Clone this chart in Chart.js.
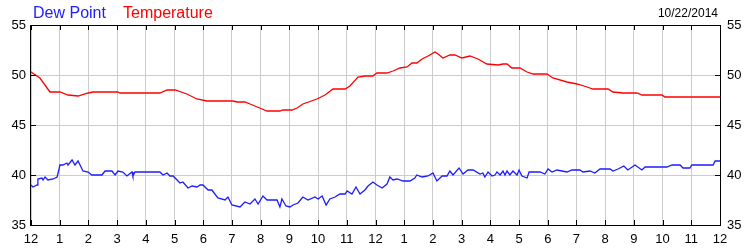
<!DOCTYPE html>
<html>
<head>
<meta charset="utf-8">
<script src="https://cdn.jsdelivr.net/npm/chart.js@4/dist/chart.umd.min.js"></script>
<style>
  html, body { margin: 0; padding: 0; background: #fff; }
  #wrap { width: 750px; height: 250px; }
</style>
</head>
<body>
<div id="wrap"><canvas id="grafico"></canvas></div>
<script>
(function () {
    'use strict';

    // hour labels, midnight to midnight
    var hourLabels = ['12', '1', '2', '3', '4', '5', '6', '7', '8', '9', '10', '11',
                      '12', '1', '2', '3', '4', '5', '6', '7', '8', '9', '10', '11', '12'];
    var yTicks = [35, 40, 45, 50, 55];
    var dateText = '10/22/2014';

    // temperature (hours since midnight / degrees)
    var tempHours = [0, 0.31, 0.66, 1.01, 1.29, 1.64, 1.99, 2.16, 3.03, 3.10, 4.49, 4.74, 5.02,
        5.43, 5.78, 6.13, 7.04, 7.18, 7.45, 7.63, 7.80, 8.05, 8.22, 8.67, 8.78, 9.09, 9.27,
        9.47, 9.96, 10.24, 10.52, 10.94, 11.11, 11.39, 11.63, 11.91, 12.05, 12.40, 12.61,
        12.85, 13.10, 13.27, 13.44, 13.62, 13.83, 14.07, 14.18, 14.35, 14.59, 14.77, 15.01,
        15.29, 15.57, 15.88, 16.27, 16.44, 16.58, 16.75, 17.03, 17.28, 17.49, 17.97, 18.18,
        18.67, 19.02, 19.37, 19.57, 20.10, 20.27, 20.62, 21.11, 21.28, 21.98, 22.08, 24];
    var tempValues = [50.3, 49.7, 48.3, 48.3, 48.0, 47.9, 48.2, 48.3, 48.3, 48.2, 48.2, 48.5, 48.5,
        48.1, 47.6, 47.4, 47.4, 47.3, 47.3, 47.1, 46.9, 46.6, 46.4, 46.4, 46.5, 46.5, 46.7,
        47.1, 47.6, 48.0, 48.6, 48.6, 48.9, 49.8, 49.9, 49.9, 50.2, 50.2, 50.4,
        50.7, 50.8, 51.2, 51.2, 51.6, 51.9, 52.3, 52.1, 51.7, 52.0, 52.0, 51.7,
        51.9, 51.6, 51.1, 51.0, 51.1, 51.1, 50.7, 50.7, 50.3, 50.1, 50.1, 49.7,
        49.3, 49.1, 48.8, 48.6, 48.6, 48.3, 48.2, 48.2, 48.0, 48.0, 47.8, 47.8];

    // dew point
    var dewHours = [0, 0.07, 0.21, 0.24, 0.38, 0.42, 0.49, 0.59, 0.77, 0.91, 1.01, 1.11, 1.25,
        1.29, 1.43, 1.53, 1.64, 1.81, 1.99, 2.12, 2.47, 2.58, 2.82, 2.93, 3.03, 3.20, 3.34,
        3.52, 3.55, 3.62, 4.49, 4.60, 4.74, 4.84, 4.95, 5.19, 5.29, 5.47, 5.61, 5.78, 5.89,
        5.99, 6.17, 6.30, 6.51, 6.76, 6.86, 7.00, 7.28, 7.45, 7.63, 7.80, 7.91, 8.08, 8.22,
        8.57, 8.67, 8.74, 8.88, 9.02, 9.13, 9.30, 9.47, 9.65, 9.89, 10.00, 10.14, 10.28,
        10.41, 10.59, 10.76, 10.94, 11.01, 11.18, 11.32, 11.46, 11.63, 11.74, 11.91, 12.05,
        12.23, 12.40, 12.50, 12.61, 12.75, 12.96, 13.20, 13.37, 13.44, 13.62, 13.83, 14.00,
        14.14, 14.32, 14.49, 14.59, 14.70, 14.91, 15.05, 15.22, 15.40, 15.64, 15.74, 15.81,
        15.92, 16.06, 16.16, 16.23, 16.34, 16.44, 16.51, 16.58, 16.68, 16.79, 16.93, 17.00,
        17.10, 17.28, 17.35, 17.73, 17.90, 18.01, 18.15, 18.32, 18.67, 18.84, 19.12, 19.23,
        19.47, 19.64, 19.82, 20.17, 20.27, 20.45, 20.65, 20.79, 21.04, 21.28, 21.39, 22.15,
        22.33, 22.61, 22.71, 22.95, 23.02, 23.76, 23.83, 24];
    var dewValues = [39.0, 38.8, 39.0, 39.6, 39.7, 39.5, 39.8, 39.5, 39.6, 39.8, 41.0, 41.0, 41.2,
        41.0, 41.5, 41.0, 41.4, 40.4, 40.3, 40.0, 40.0, 40.4, 40.4, 40.0, 40.4, 40.3, 39.9,
        40.3, 39.9, 40.3, 40.3, 40.0, 40.2, 39.9, 39.9, 39.2, 39.3, 38.7, 38.9, 38.8, 39.0,
        39.0, 38.5, 38.5, 37.7, 37.5, 37.8, 37.0, 36.8, 37.3, 37.1, 37.6, 37.1, 37.9, 37.5,
        37.5, 36.8, 37.6, 36.9, 36.8, 37.0, 37.2, 37.8, 37.5, 37.8, 37.6, 37.9, 37.0,
        37.6, 37.8, 38.1, 38.1, 38.4, 38.1, 38.8, 38.1, 38.5, 38.9, 39.3, 39.0,
        38.7, 39.1, 39.8, 39.5, 39.6, 39.4, 39.4, 39.7, 40.0, 39.8, 39.9, 40.2,
        39.4, 39.9, 39.9, 40.4, 40.0, 40.7, 40.1, 40.5, 40.5, 40.1, 40.2, 39.8,
        40.3, 39.9, 40.0, 40.3, 40.0, 40.4, 40.0, 40.4, 40.0, 40.4, 40.0, 40.5,
        39.9, 39.7, 40.3, 40.3, 40.1, 40.6, 40.3, 40.5, 40.3, 40.5, 40.5, 40.3,
        40.4, 40.2, 40.6, 40.6, 40.4, 40.6, 40.9, 40.5, 41.0, 40.5, 40.8, 40.8,
        41.0, 41.0, 40.7, 40.7, 41.0, 41.0, 41.4, 41.4];

    var FONT = '"Liberation Sans", Arial, sans-serif';

    function pontos(hours, values) {
        return hours.map(function (h, i) { return { x: h, y: values[i] }; });
    }

    // frame, inward tick marks, legend text and date
    var moldura = {
        id: 'moldura',
        afterDraw: function (chart) {
            var ctx = chart.ctx;
            var a = chart.chartArea;
            var sx = chart.scales.x;
            var sy = chart.scales.y;
            ctx.save();
            ctx.strokeStyle = '#000';
            ctx.lineWidth = 1;
            ctx.beginPath();
            hourLabels.forEach(function (l, i) {
                var px = Math.round(sx.getPixelForValue(i)) + 0.5;
                ctx.moveTo(px, a.top); ctx.lineTo(px, a.top + 5);
                ctx.moveTo(px, a.bottom); ctx.lineTo(px, a.bottom - 5);
            });
            yTicks.forEach(function (v) {
                var py = Math.round(sy.getPixelForValue(v)) + 0.5;
                ctx.moveTo(a.left, py); ctx.lineTo(a.left + 5, py);
                ctx.moveTo(a.right, py); ctx.lineTo(a.right - 5, py);
            });
            ctx.stroke();
            ctx.strokeRect(Math.round(a.left) - 0.5, Math.round(a.top) + 0.5,
                Math.round(a.right - a.left) + 1, Math.round(a.bottom - a.top));

            ctx.textBaseline = 'alphabetic';
            ctx.font = '16px ' + FONT;
            ctx.textAlign = 'left';
            ctx.fillStyle = '#2020ff';
            ctx.fillText('Dew Point', 33, 18);
            ctx.fillStyle = '#ff0000';
            ctx.fillText('Temperature', 123, 18);
            ctx.font = '12px ' + FONT;
            ctx.fillStyle = '#000';
            ctx.textAlign = 'right';
            ctx.fillText(dateText, 718, 17);
            ctx.restore();
        }
    };

    var canvas = document.getElementById('grafico');
    new Chart(canvas, {
        type: 'line',
        data: {
            datasets: [
                {
                    label: 'Temperature',
                    data: pontos(tempHours, tempValues),
                    borderColor: '#ff0000',
                    borderWidth: 1.3,
                    pointRadius: 0,
                    tension: 0,
                    fill: false
                },
                {
                    label: 'Dew Point',
                    data: pontos(dewHours, dewValues),
                    borderColor: '#1c1cff',
                    borderWidth: 1.3,
                    pointRadius: 0,
                    tension: 0,
                    fill: false
                }
            ]
        },
        options: {
            responsive: true,
            maintainAspectRatio: false,
            animation: false,
            layout: { padding: { top: 25, left: 0, right: 0, bottom: 0 } },
            plugins: {
                legend: { display: false },
                tooltip: { enabled: false }
            },
            scales: {
                x: {
                    type: 'linear',
                    min: 0,
                    max: 24,
                    afterFit: function (s) { s.height = 25; },
                    border: { display: false },
                    grid: { color: '#cccccc', drawTicks: false },
                    ticks: {
                        stepSize: 1,
                        autoSkip: false,
                        maxRotation: 0,
                        padding: 7,
                        color: '#000',
                        font: { family: FONT, size: 13 },
                        callback: function (v) { return hourLabels[v]; }
                    }
                },
                y: {
                    position: 'left',
                    min: 35,
                    max: 55,
                    afterFit: function (s) { s.width = 31; },
                    border: { display: false },
                    grid: { color: '#cccccc', drawTicks: false },
                    ticks: {
                        stepSize: 5,
                        padding: 5,
                        color: '#000',
                        font: { family: FONT, size: 13 }
                    }
                },
                y2: {
                    position: 'right',
                    min: 35,
                    max: 55,
                    afterFit: function (s) { s.width = 30; },
                    border: { display: false },
                    grid: { display: false, drawTicks: false },
                    ticks: {
                        stepSize: 5,
                        padding: 7,
                        color: '#000',
                        font: { family: FONT, size: 13 }
                    }
                }
            }
        },
        plugins: [moldura]
    });
})();
</script>
</body>
</html>
